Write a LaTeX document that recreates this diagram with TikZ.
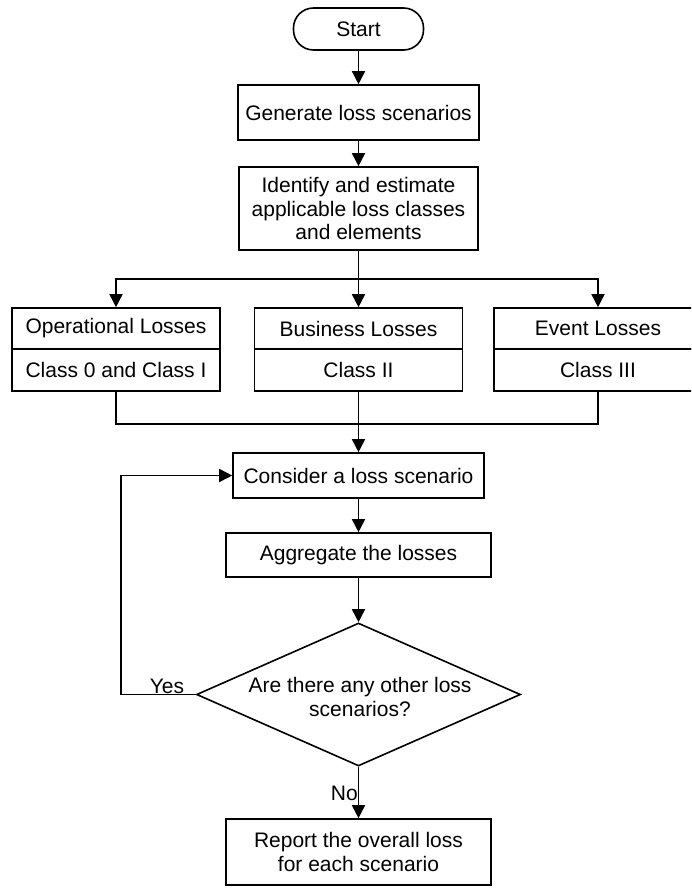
\documentclass[tikz,border=0pt]{standalone}
\usepackage{fontspec}
\setmainfont{Liberation Sans}
\usetikzlibrary{arrows.meta,shapes.geometric}
\begin{document}
\begin{tikzpicture}[x=1pt,y=-1pt,
  font=\fontsize{21}{23.5}\selectfont,
  line width=1.6pt,
  box/.style={draw, rectangle, inner sep=0pt, align=center},
  term/.style={draw, rectangle, rounded corners=20pt, inner sep=0pt},
  dec/.style={draw, diamond, inner sep=0pt, shape aspect=2.27},
  arr/.style={-{Triangle[length=13pt,width=13pt]}},
  lab/.style={inner sep=1pt}
]
\useasboundingbox (0,0) rectangle (691,888);
\clip (0,0) rectangle (691,888);
\fill[white] (0,0) rectangle (691,888);

\node[term, minimum width=130pt, minimum height=42pt] (start) at (358.5,29) {Start};
\node[box, minimum width=241pt, minimum height=55pt] (gen) at (358.5,112.5) {Generate loss scenarios};
\node[box, minimum width=239pt, minimum height=83pt] (ident) at (358.5,208.5) {Identify and estimate\\applicable loss classes\\and elements};

\node[box, minimum width=208pt, minimum height=41pt] (opT) at (116,328.5) {Operational Losses};
\node[box, minimum width=208pt, minimum height=42pt] (opB) at (116,370) {Class 0 and Class I};
\node[box, minimum width=208pt, minimum height=41pt] (buT) at (358.5,328.5) {Business Losses};
\node[box, minimum width=208pt, minimum height=42pt] (buB) at (358.5,370) {Class II};
\node[box, minimum width=208pt, minimum height=41pt] (evT) at (598,328.5) {Event Losses};
\node[box, minimum width=208pt, minimum height=42pt] (evB) at (598,370) {Class III};

\node[box, minimum width=251pt, minimum height=45pt] (cons) at (358.5,475.5) {Consider a loss scenario};
\node[box, minimum width=265pt, minimum height=44pt] (agg) at (358.5,555) {Aggregate the losses};
\node[dec, minimum width=324pt, minimum height=143pt] (dec) at (358.5,694.5) {};
\node[align=center, inner sep=0pt] (dectext) at (360,697) {Are there any other loss\\scenarios?};
\node[box, minimum width=265pt, minimum height=66pt] (rep) at (358.5,852) {Report the overall loss\\for each scenario};

\coordinate (split) at (358.5,279);
\coordinate (merge) at (358.5,424);
\coordinate (loop) at (121,694.5);

\draw[arr] (start) -- (gen);
\draw[arr] (gen) -- (ident);
\draw (ident.south) -- (split);
\draw[arr] (split) -| (opT.north);
\draw[arr] (split) -| (evT.north);
\draw[arr] (split) -- (buT.north);
\draw (opB.south) |- (merge);
\draw (evB.south) |- (merge);
\draw[arr] (buB.south) -- (cons.north);
\draw[arr] (cons) -- (agg);
\draw[arr] (agg) -- (dec.north);
\draw (dec.west) -- (loop);
\draw[arr] (loop) |- (cons.west);
\draw[arr] (dec.south) -- (rep.north);

\node[lab, anchor=south] (yes) at (167,695) {Yes};
\node[lab, anchor=east] (no) at (359.5,793) {No};
\end{tikzpicture}
\end{document}
